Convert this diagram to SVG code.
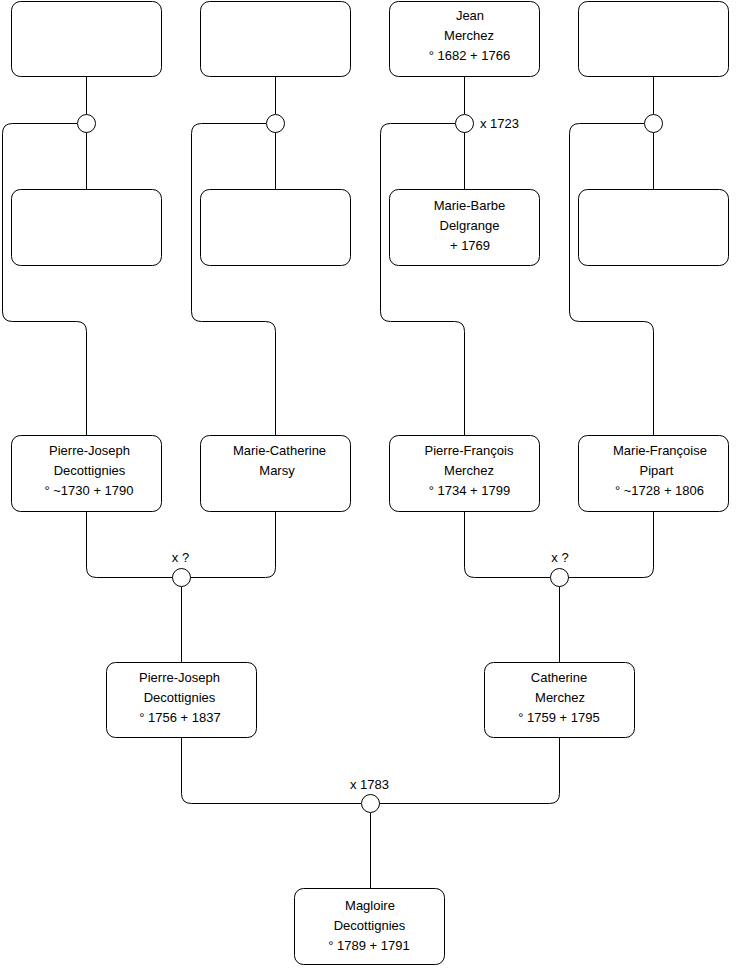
<svg xmlns="http://www.w3.org/2000/svg" width="740" height="975" viewBox="0 0 740 975">
<style>
.b{fill:#fff;stroke:#000;stroke-width:1}
.c{fill:#fff;stroke:#000;stroke-width:1}
.l{fill:none;stroke:#000;stroke-width:1}
text{font-family:"Liberation Sans",Arial,sans-serif;font-size:13px;fill:#000;text-anchor:middle}
.lb{text-anchor:start}
</style>
<rect width="740" height="975" fill="#fff"/>
<g id="connectors">
<path class="l" d="M86.5,76.5V114"/>
<path class="l" d="M86.5,132V189.5"/>
<path class="l" d="M77,123.5H12.5Q2.5,123.5 2.5,133.5V311.5Q2.5,321.5 12.5,321.5H76.5Q86.5,321.5 86.5,331.5V435.5"/>
<path class="l" d="M275.5,76.5V114"/>
<path class="l" d="M275.5,132V189.5"/>
<path class="l" d="M266,123.5H201.5Q191.5,123.5 191.5,133.5V311.5Q191.5,321.5 201.5,321.5H265.5Q275.5,321.5 275.5,331.5V435.5"/>
<path class="l" d="M464.5,76.5V114"/>
<path class="l" d="M464.5,132V189.5"/>
<path class="l" d="M455,123.5H390.5Q380.5,123.5 380.5,133.5V311.5Q380.5,321.5 390.5,321.5H454.5Q464.5,321.5 464.5,331.5V435.5"/>
<path class="l" d="M653.5,76.5V114"/>
<path class="l" d="M653.5,132V189.5"/>
<path class="l" d="M644,123.5H579.5Q569.5,123.5 569.5,133.5V311.5Q569.5,321.5 579.5,321.5H643.5Q653.5,321.5 653.5,331.5V435.5"/>
<path class="l" d="M86.5,511.5V567.5Q86.5,577.5 96.5,577.5H172"/>
<path class="l" d="M275.5,511.5V567.5Q275.5,577.5 265.5,577.5H190"/>
<path class="l" d="M181.5,586.5V662.5"/>
<path class="l" d="M464.5,511.5V567.5Q464.5,577.5 474.5,577.5H550"/>
<path class="l" d="M653.5,511.5V567.5Q653.5,577.5 643.5,577.5H568"/>
<path class="l" d="M559.5,586.5V662.5"/>
<path class="l" d="M181.5,737.5V793.5Q181.5,803.5 191.5,803.5H361"/>
<path class="l" d="M559.5,737.5V793.5Q559.5,803.5 549.5,803.5H379"/>
<path class="l" d="M370.5,812.5V888.5"/>
</g>
<g id="u1"><rect class="b" x="11.5" y="1.5" width="150" height="75" rx="9"/></g>
<g id="u2"><rect class="b" x="200.5" y="1.5" width="150" height="75" rx="9"/></g>
<g id="jean"><rect class="b" x="389.5" y="1.5" width="150" height="75" rx="9"/>
<text x="470" y="20">Jean</text><text x="469" y="40">Merchez</text><text x="469.5" y="60">° 1682 + 1766</text></g>
<g id="u4"><rect class="b" x="578.5" y="1.5" width="150" height="75" rx="9"/></g>
<g id="m1"><circle class="c" cx="86.5" cy="123.5" r="9"/></g>
<g id="m2"><circle class="c" cx="275.5" cy="123.5" r="9"/></g>
<g id="m3"><circle class="c" cx="464.5" cy="123.5" r="9"/><text class="lb" x="480" y="128">x 1723</text></g>
<g id="m4"><circle class="c" cx="653.5" cy="123.5" r="9"/></g>
<g id="u5"><rect class="b" x="11.5" y="189.5" width="150" height="76" rx="9"/></g>
<g id="u6"><rect class="b" x="200.5" y="189.5" width="150" height="76" rx="9"/></g>
<g id="mariebarbe"><rect class="b" x="389.5" y="189.5" width="150" height="76" rx="9"/>
<text x="469.5" y="210">Marie-Barbe</text><text x="469.5" y="230">Delgrange</text><text x="470" y="250">+ 1769</text></g>
<g id="u8"><rect class="b" x="578.5" y="189.5" width="150" height="76" rx="9"/></g>
<g id="pj1"><rect class="b" x="11.5" y="435.5" width="150" height="76" rx="9"/>
<text x="89.5" y="455">Pierre-Joseph</text><text x="89.5" y="475">Decottignies</text><text x="89" y="495">° ~1730 + 1790</text></g>
<g id="mc"><rect class="b" x="200.5" y="435.5" width="150" height="76" rx="9"/>
<text x="279.5" y="455">Marie-Catherine</text><text x="277" y="475">Marsy</text></g>
<g id="pf"><rect class="b" x="389.5" y="435.5" width="150" height="76" rx="9"/>
<text x="469" y="455">Pierre-François</text><text x="469" y="475">Merchez</text><text x="469.5" y="495">° 1734 + 1799</text></g>
<g id="mf"><rect class="b" x="578.5" y="435.5" width="150" height="76" rx="9"/>
<text x="660" y="455">Marie-Françoise</text><text x="656.5" y="475">Pipart</text><text x="659.5" y="495">° ~1728 + 1806</text></g>
<g id="m5"><circle class="c" cx="181.5" cy="577.5" r="9"/><text x="180.5" y="562">x ?</text></g>
<g id="m6"><circle class="c" cx="559.5" cy="577.5" r="9"/><text x="560" y="562">x ?</text></g>
<g id="pj2"><rect class="b" x="106.5" y="662.5" width="150" height="75" rx="9"/>
<text x="179.5" y="682">Pierre-Joseph</text><text x="179.5" y="702">Decottignies</text><text x="180" y="722">° 1756 + 1837</text></g>
<g id="cm"><rect class="b" x="484.5" y="662.5" width="150" height="75" rx="9"/>
<text x="559" y="682">Catherine</text><text x="560" y="702">Merchez</text><text x="559" y="722">° 1759 + 1795</text></g>
<g id="m7"><circle class="c" cx="370.5" cy="803.5" r="9"/><text x="369.5" y="789">x 1783</text></g>
<g id="md"><rect class="b" x="294.5" y="888.5" width="150" height="76" rx="9"/>
<text x="370" y="910">Magloire</text><text x="369.5" y="930">Decottignies</text><text x="369" y="950">° 1789 + 1791</text></g>
</svg>
